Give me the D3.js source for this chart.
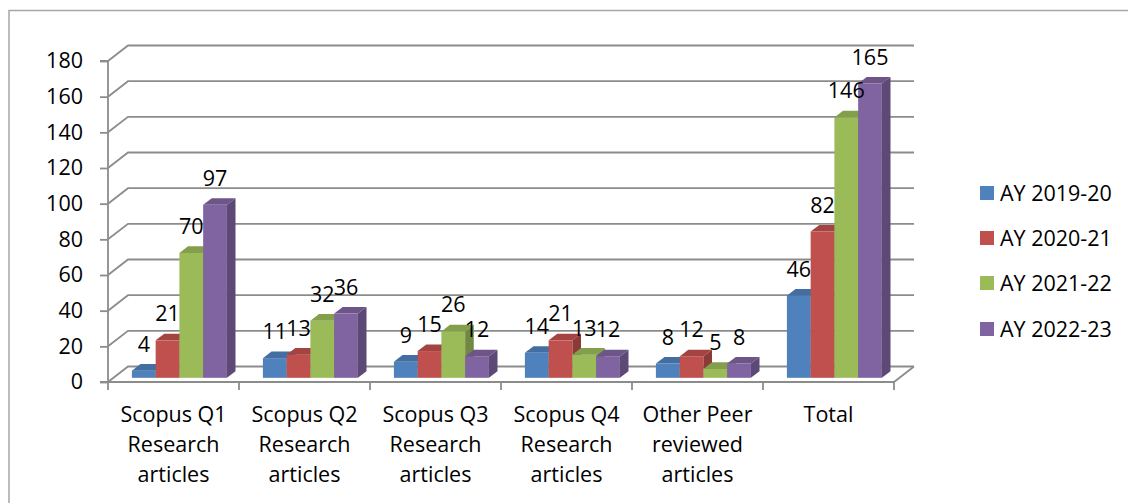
<!DOCTYPE html>
<html>
<head>
<meta charset="utf-8">
<script src="https://cdn.jsdelivr.net/npm/d3@7"></script>
<style>
  html, body { margin: 0; padding: 0; background: #fff; }
  svg { display: block; }
  text { font-family: "Open Sans", Lato, sans-serif; fill: #000; }
</style>
</head>
<body>
<svg id="chart" width="1128" height="503"></svg>
<script>
const categories = [
  ["Scopus Q1", "Research", "articles"],
  ["Scopus Q2", "Research", "articles"],
  ["Scopus Q3", "Research", "articles"],
  ["Scopus Q4", "Research", "articles"],
  ["Other Peer", "reviewed", "articles"],
  ["Total"]
];
const seriesNames = ["AY 2019-20", "AY 2020-21", "AY 2021-22", "AY 2022-23"];
const seriesColors = ["#4F81BD", "#C0504D", "#9BBB59", "#8064A2"];
const ay2019 = [4, 11, 9, 14, 8, 46];
const ay2020 = [21, 13, 15, 21, 12, 82];
const ay2021 = [70, 32, 26, 13, 5, 146];
const ay2022 = [97, 36, 12, 12, 8, 165];
const seriesValues = [ay2019, ay2020, ay2021, ay2022];
const yTicks = [0, 20, 40, 60, 80, 100, 120, 140, 160, 180];

const svg = d3.select("#chart");
const catKeys = categories.map(c => c.join(" "));
const FONT = "'Open Sans', Lato, sans-serif";
const FS = 21.5;

// layout
const plotLeft = 108, plotRight = 894, plotBottom = 382, plotTop = 61;
const depth = { dx: 20, dy: -15.5 };
const barFront = 0.27, barBack = 0.70;
const gridColor = "#8c8c8c";

const x0 = d3.scaleBand().domain(catKeys).range([plotLeft, plotRight]).paddingInner(0).paddingOuter(0);
const groupOffset = 18.5;
const barW = 23.75;
const x1 = d3.scaleBand().domain(seriesNames).range([0, barW * 4]);
const y = d3.scaleLinear().domain([0, 180]).range([plotBottom, plotTop]);

// outer frame
svg.append("rect")
  .attr("x", 9).attr("y", 10.5).attr("width", 1130).attr("height", 500)
  .attr("fill", "none").attr("stroke", "#a6a6a6").attr("stroke-width", 1.5);

const grid = svg.append("g");
yTicks.forEach(t => {
  const yy = y(t);
  grid.append("path")
    .attr("d", `M${plotLeft},${yy}L${plotLeft + depth.dx},${yy + depth.dy}L${plotRight + depth.dx},${yy + depth.dy}`)
    .attr("fill", "none").attr("stroke", gridColor).attr("stroke-width", 1.8);
});
grid.append("path")
  .attr("d", `M${plotLeft},${plotBottom}L${plotRight},${plotBottom}L${plotRight + depth.dx},${plotBottom + depth.dy}`)
  .attr("fill", "none").attr("stroke", gridColor).attr("stroke-width", 1.8);

// y axis
const yAxis = d3.axisLeft(y).tickValues(yTicks).tickSize(8).tickPadding(17);
const gy = svg.append("g").attr("transform", `translate(${plotLeft},0)`).call(yAxis);
gy.select(".domain").attr("stroke", gridColor).attr("stroke-width", 1.8).attr("d", `M-8,${plotTop}H0V${plotBottom}H-8`);
gy.selectAll(".tick line").attr("stroke", gridColor).attr("stroke-width", 1.8);
gy.selectAll(".tick text").attr("font-size", FS).attr("font-family", FONT).attr("fill", "#000");

// x axis ticks at category boundaries
const xBounds = catKeys.map(k => x0(k)).concat([plotRight]);
svg.append("g").selectAll("line").data(xBounds).join("line")
  .attr("x1", d => d).attr("x2", d => d)
  .attr("y1", plotBottom).attr("y2", plotBottom + 8)
  .attr("stroke", gridColor).attr("stroke-width", 1.8);

// category labels
const catG = svg.append("g");
categories.forEach((lines, i) => {
  const cx = x0(catKeys[i]) + x0.bandwidth() / 2;
  const t = catG.append("text").attr("text-anchor", "middle").attr("font-size", FS);
  lines.forEach((ln, j) => {
    t.append("tspan").attr("x", cx).attr("y", 422 + j * 30).text(ln);
  });
});

// bars
const barsG = svg.append("g");
const labelsG = svg.append("g");
const fx = depth.dx * barFront, fy = depth.dy * barFront;
const bx = depth.dx * (barBack - barFront), by = depth.dy * (barBack - barFront);
catKeys.forEach((k, ci) => {
  seriesNames.forEach((s, si) => {
    const v = seriesValues[si][ci];
    const xl = x0(k) + groupOffset + x1(s) + fx;
    const xr = xl + barW;
    const yb = y(0) + fy;
    const yt = y(v) + fy;
    const base = d3.color(seriesColors[si]);
    barsG.append("rect")
      .attr("x", xl).attr("y", yt).attr("width", barW).attr("height", yb - yt)
      .attr("fill", base.formatHex());
    barsG.append("path")
      .attr("d", `M${xl},${yt}L${xl + bx},${yt + by}L${xr + bx},${yt + by}L${xr},${yt}Z`)
      .attr("fill", base.darker(0.45).formatHex());
    barsG.append("path")
      .attr("d", `M${xr},${yt}L${xr + bx},${yt + by}L${xr + bx},${yb + by}L${xr},${yb}Z`)
      .attr("fill", base.darker(0.9).formatHex());
    labelsG.append("text")
      .attr("x", xl + barW / 2).attr("y", yt - 19)
      .attr("text-anchor", "middle").attr("font-size", FS)
      .text(v);
  });
});

// legend
const legendY = [193, 238, 283, 329];
const lg = svg.append("g");
seriesNames.forEach((s, i) => {
  lg.append("rect").attr("x", 980).attr("y", legendY[i] - 7).attr("width", 14).attr("height", 14)
    .attr("fill", seriesColors[i]);
  lg.append("text").attr("x", 1000).attr("y", legendY[i]).attr("dy", "0.35em")
    .attr("font-size", FS).text(s);
});
</script>
</body>
</html>
